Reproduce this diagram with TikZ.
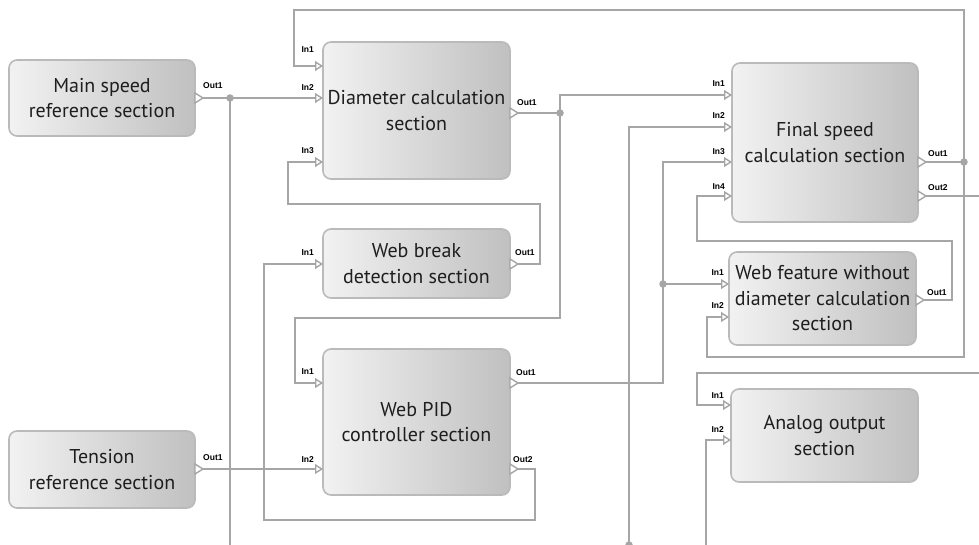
\documentclass[tikz,border=0pt]{standalone}
\usepackage{fontspec}
\setmainfont{PT Sans}
\newfontfamily\portfont{Liberation Sans}
\usetikzlibrary{arrows.meta}
\definecolor{wirec}{HTML}{A6A6A6}
\definecolor{edgec}{HTML}{BABABA}
\definecolor{gl}{HTML}{F2F2F2}
\definecolor{gd}{HTML}{C0C0C0}
\definecolor{txt}{HTML}{1E1E1E}
\begin{document}
\begin{tikzpicture}[x=1pt,y=-1pt,
  blk/.style={draw=edgec, line width=1.6pt, rounded corners=8pt, left color=gl, right color=gd,
    align=center, text=txt, font=\fontsize{20}{25.5}\selectfont, inner sep=0pt},
  wire/.style={draw=wirec, line width=2.6pt},
  thinwire/.style={draw=wirec, line width=2pt},
  inp/.style={wire, -{Triangle[open, length=8pt, width=10pt, line width=1.4pt]}},
  jdot/.style={circle, fill=wirec, inner sep=0pt, minimum size=7.5pt},
  plab/.style={font=\portfont\bfseries\fontsize{8.5}{8.5}\selectfont, inner sep=0pt, text=black},
  outtri/.pic={\draw[draw=wirec, fill=white, line width=1.4pt] (0,-5) -- (8,0) -- (0,5) -- cycle;}
]
\useasboundingbox (0,0) rectangle (979,545);

% blocks
\node[blk, minimum width=186, minimum height=76]  (ms)  at (102,98)      {Main speed\\reference section};
\node[blk, minimum width=187, minimum height=137] (dc)  at (416.5,110.5) {Diameter calculation\\section};
\node[blk, minimum width=187, minimum height=69]  (wb)  at (416.5,263.5) {Web break\\detection section};
\node[blk, minimum width=187, minimum height=146] (pid) at (416.5,422)   {Web PID\\controller section};
\node[blk, minimum width=186, minimum height=77]  (tr)  at (102,469.5)   {Tension\\reference section};
\node[blk, minimum width=186, minimum height=159] (fs)  at (825,142.5)   {Final speed\\calculation section};
\node[blk, minimum width=187, minimum height=93]  (wf)  at (822.5,298.5) {Web feature without\\diameter calculation\\section};
\node[blk, minimum width=187, minimum height=93]  (ao)  at (824.5,435.5) {Analog output\\section};

% output port triangles and their tips
\pic at (195,98)  {outtri}; \coordinate (msO)   at (203,98);
\pic at (510,113) {outtri}; \coordinate (dcO)   at (518,113);
\pic at (510,264) {outtri}; \coordinate (wbO)   at (518,264);
\pic at (510,383) {outtri}; \coordinate (pidO1) at (518,383);
\pic at (510,469) {outtri}; \coordinate (pidO2) at (518,469);
\pic at (195,469) {outtri}; \coordinate (trO)   at (203,469);
\pic at (918,162) {outtri}; \coordinate (fsO1)  at (926,162);
\pic at (918,196) {outtri}; \coordinate (fsO2)  at (926,196);
\pic at (916,300) {outtri}; \coordinate (wfO)   at (924,300);

% input ports
\coordinate (dcI1) at (323,66);  \coordinate (dcI2) at (323,98);  \coordinate (dcI3) at (323,162);
\coordinate (wbI)  at (323,264);
\coordinate (pidI1) at (323,383); \coordinate (pidI2) at (323,469);
\coordinate (fsI1) at (732,95);  \coordinate (fsI2) at (732,127); \coordinate (fsI3) at (732,162); \coordinate (fsI4) at (732,196);
\coordinate (wfI1) at (729,284); \coordinate (wfI2) at (729,317);
\coordinate (aoI1) at (731,405); \coordinate (aoI2) at (731,440);

% junctions and free ends
\coordinate (j1) at (230,98);
\coordinate (j2) at (560,113);
\coordinate (j3) at (663,284);
\coordinate (j4) at (964,162);
\coordinate (j5) at (629,545);
\coordinate (e1) at (230,550);
\coordinate (e2) at (982,196);
\coordinate (e3) at (982,373);
\coordinate (e4) at (706,550);

% connectors
\draw[inp, thinwire] (j4) |- (294,10) |- (dcI1);
\draw[inp] (msO) -- (dcI2);
\draw[wire] (j1) -- (e1);
\draw[wire] (fsO1) -- (j4);
\draw[inp, thinwire] (j4) |- (707,357) |- (wfI2);
\draw[inp] (wbO) -| (540,204) -| (288,162) -- (dcI3);
\draw[wire] (dcO) -- (j2);
\draw[inp] (j2) |- (fsI1);
\draw[inp] (j2) |- (295,318) |- (pidI1);
\draw[inp] (j5) |- (fsI2);
\draw[inp] (pidO1) -| (663,162) -- (fsI3);
\draw[inp] (j3) -- (wfI1);
\draw[inp] (wfO) -| (952,241) -| (697,196) -- (fsI4);
\draw[wire] (fsO2) -- (e2);
\draw[inp] (e3) -| (697,405) -- (aoI1);
\draw[inp] (e4) |- (aoI2);
\draw[inp] (pidO2) -| (535,520) -| (264,264) -- (wbI);
\draw[inp] (trO) -- (pidI2);

% junction dots
\node[jdot] (d1) at (j1) {};
\node[jdot] (d2) at (j2) {};
\node[jdot] (d3) at (j3) {};
\node[jdot] (d4) at (j4) {};
\node[jdot] (d5) at (j5) {};

% port labels
\node[plab, anchor=base west] (l1) at (203,89) {Out1};
\node[plab, anchor=base east] (l2) at (314,53) {In1};
\node[plab, anchor=base east] (l3) at (314,91) {In2};
\node[plab, anchor=base east] (l4) at (314,154) {In3};
\node[plab, anchor=base west] (l5) at (517,106) {Out1};
\node[plab, anchor=base east] (l6) at (314,255) {In1};
\node[plab, anchor=base west] (l7) at (515,255) {Out1};
\node[plab, anchor=base east] (l8) at (314,374) {In1};
\node[plab, anchor=base east] (l9) at (314,462) {In2};
\node[plab, anchor=base west] (l10) at (516,375) {Out1};
\node[plab, anchor=base west] (l11) at (513,462) {Out2};
\node[plab, anchor=base west] (l12) at (203,460) {Out1};
\node[plab, anchor=base east] (l13) at (725,87) {In1};
\node[plab, anchor=base east] (l14) at (725,119) {In2};
\node[plab, anchor=base east] (l15) at (725,155) {In3};
\node[plab, anchor=base east] (l16) at (725,190) {In4};
\node[plab, anchor=base west] (l17) at (928,157) {Out1};
\node[plab, anchor=base west] (l18) at (928,191) {Out2};
\node[plab, anchor=base east] (l19) at (724,275) {In1};
\node[plab, anchor=base east] (l20) at (724,308) {In2};
\node[plab, anchor=base west] (l21) at (927,295) {Out1};
\node[plab, anchor=base east] (l22) at (724,398) {In1};
\node[plab, anchor=base east] (l23) at (724,432) {In2};
\end{tikzpicture}
\end{document}
